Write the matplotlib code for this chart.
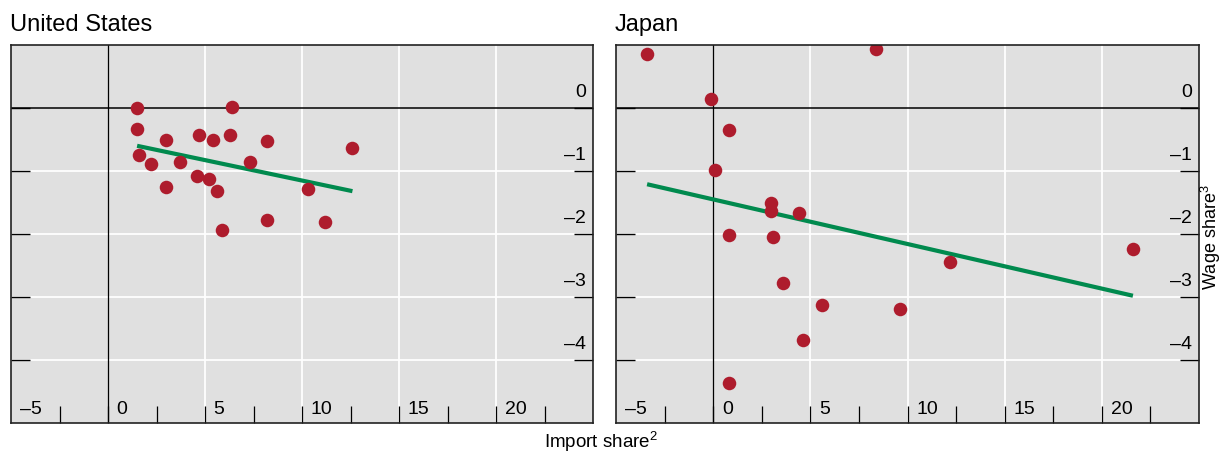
import matplotlib.pyplot as plt
import numpy as np

plt.rcParams['font.family'] = ['Liberation Sans', 'DejaVu Sans']
plt.rcParams['mathtext.fontset'] = 'custom'
plt.rcParams['mathtext.rm'] = 'Liberation Sans'
plt.rcParams['mathtext.it'] = 'Liberation Sans'

# United States: import share vs wage share
us_x = [1.5, 6.4, 1.5, 3.0, 4.7, 5.4, 6.3, 8.2, 12.6, 1.6, 2.2,
        3.7, 7.3, 4.6, 5.2, 3.0, 5.6, 10.3, 8.2, 11.2, 5.9]
us_y = [0.0, 0.01, -0.34, -0.50, -0.43, -0.51, -0.43, -0.53, -0.64, -0.74, -0.89,
        -0.85, -0.86, -1.08, -1.13, -1.26, -1.31, -1.29, -1.78, -1.81, -1.94]
us_fit_x = [1.5, 12.6]
us_fit_y = [-0.60, -1.32]

# Japan
jp_x = [-3.4, 8.4, -0.1, 0.8, 0.1, 3.0, 3.0, 4.4, 0.8, 3.1, 21.6,
        12.2, 3.6, 5.6, 9.6, 4.6, 0.8]
jp_y = [0.86, 0.93, 0.14, -0.35, -0.99, -1.50, -1.64, -1.67, -2.02, -2.04, -2.24,
        -2.44, -2.78, -3.13, -3.19, -3.69, -4.37]
jp_fit_x = [-3.4, 21.6]
jp_fit_y = [-1.21, -2.98]

x_labels = [-5, 0, 5, 10, 15, 20]
x_minor = [-2.5, 0, 2.5, 5, 7.5, 10, 12.5, 15, 17.5, 20, 22.5]
y_labels = [0, -1, -2, -3, -4]

dot_color = '#ae1c2d'
line_color = '#008a4e'
bg_color = '#e0e0e0'

fig = plt.figure(figsize=(12.22, 4.54), dpi=100)
ax1 = fig.add_axes([11 / 1222, 31 / 454, 582 / 1222, 378 / 454])
ax2 = fig.add_axes([616 / 1222, 31 / 454, 583 / 1222, 378 / 454])


def draw_panel(ax, xs, ys, fx, fy, title):
    ax.set_facecolor(bg_color)
    ax.set_xlim(-5, 25)
    ax.set_ylim(-5, 1)

    # grid lines
    for v in x_labels:
        if v > 0:
            ax.axvline(v, color='white', lw=1.3, zorder=1)
    for v in y_labels:
        if v < 0:
            ax.axhline(v, color='white', lw=1.3, zorder=1)
    ax.axvline(0, color='black', lw=0.9, zorder=2)
    ax.axhline(0, color='black', lw=1.1, zorder=2)

    ax.scatter(xs, ys, s=95, color=dot_color, zorder=4, clip_on=True, linewidths=0)
    ax.plot(fx, fy, color=line_color, lw=3, zorder=3, solid_capstyle='butt')

    # ticks
    ax.set_xticks(x_minor)
    ax.set_yticks(y_labels)
    ax.tick_params(axis='x', direction='in', length=12.5, width=0.9, color='black',
                   labelbottom=False, bottom=True)
    ax.tick_params(axis='y', direction='in', length=13.5, width=1.0, color='black',
                   left=True, right=True, labelleft=False)
    for sp in ax.spines.values():
        sp.set_color('#222222')
        sp.set_linewidth(1.2)
        sp.set_zorder(5)

    # tick labels inside the panel
    for v in x_labels:
        ax.text(v + 0.45, 0.035, '\u2013%d' % -v if v < 0 else str(v),
                transform=ax.get_xaxis_transform(), ha='left', va='center', fontsize=14)
    for v in y_labels:
        ax.text(24.65, v + 0.24, '\u2013%d' % -v if v < 0 else str(v),
                ha='right', va='center', fontsize=14)

    pos = ax.get_position()
    fig.text(pos.x0 - 0.001, 1 - 25 / 454, title, ha='left', va='center', fontsize=17)


draw_panel(ax1, us_x, us_y, us_fit_x, us_fit_y, 'United States')
draw_panel(ax2, jp_x, jp_y, jp_fit_x, jp_fit_y, 'Japan')

fig.text(601 / 1222, 1 - 442 / 454, 'Import share$^2$', ha='center', va='center', fontsize=13.5)
fig.text(1211 / 1222, 1 - 237 / 454, 'Wage share$^3$', ha='center', va='center',
         rotation=90, fontsize=13)

fig.savefig('out.png', dpi=100)
